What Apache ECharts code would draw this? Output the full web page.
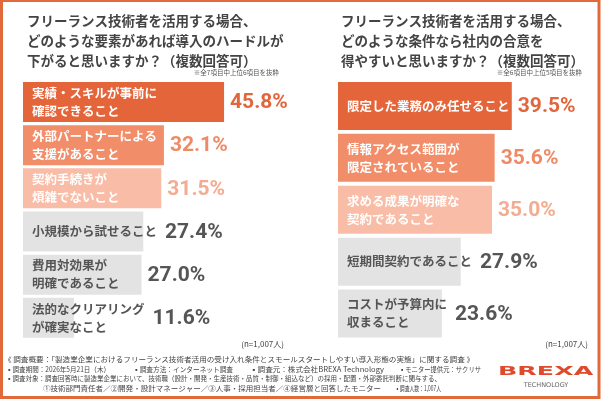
<!DOCTYPE html>
<html>
<head>
<meta charset="utf-8">
<script src="https://cdn.jsdelivr.net/npm/echarts@6/dist/echarts.min.js"></script>
<style>
html,body{margin:0;padding:0;background:#fff;}
#main{width:602px;height:401px;}
</style>
</head>
<body>
<div id="main"></div>
<script>
// 左パネル：導入のハードルが下がる要素
var leftNames = ['実績・スキルが事前に\n確認できること', '外部パートナーによる\n支援があること', '契約手続きが\n煩雑でないこと',
    '小規模から試せること', '費用対効果が\n明確であること', '法的なクリアリング\nが確実なこと'];
var leftValues = [45.8, 32.1, 31.5, 27.4, 27.0, 11.6];
// 右パネル：社内の合意を得やすい条件
var rightNames = ['限定した業務のみ任せること', '情報アクセス範囲が\n限定されていること', '求める成果が明確な\n契約であること',
    '短期間契約であること', 'コストが予算内に\n収まること'];
var rightValues = [39.5, 35.6, 35.0, 27.9, 23.6];

var leftTitle = 'フリーランス技術者を活用する場合、\nどのような要素があれば導入のハードルが\n下がると思いますか？（複数回答可）';
var rightTitle = 'フリーランス技術者を活用する場合、\nどのような条件なら社内の合意を\n得やすいと思いますか？（複数回答可）';
var leftNote = '※全7項目中上位6項目を抜粋';
var rightNote = '※全6項目中上位5項目を抜粋';
var sampleText = '(n=1,007人)';

// 調査概要 [x, y, 右端, テキスト]
var footLines = [
    [4, 359, 474, '《 調査概要：「製造業企業におけるフリーランス技術者活用の受け入れ条件とスモールスタートしやすい導入形態の実態」に関する調査 》'],
    [6, 369, 110, '▪調査期間：2026年5月21日（木）'],
    [133, 369, 233, '▪調査方法：インターネット調査'],
    [250, 369, 384, '▪調査元：株式会社BREXA Technology'],
    [399, 369, 481, '▪モニター提供元：サクリサ'],
    [6, 378.5, 441, '▪調査対象：調査回答時に製造業企業において、技術職（設計・開発・生産技術・品質・制御・組込など）の採用・配置・外部委託判断に関与する、'],
    [43, 388, 381, '①技術部門責任者／②開発・設計マネージャー／③人事・採用担当者／④経営層と回答したモニター'],
    [395, 388, 441, '▪調査人数：1,007人']
];

var barColors = ['#E5653A', '#F28D69', '#F9BCA6', '#E3E3E3', '#E3E3E3', '#E3E3E3'];
var valueColors = ['#E2663C', '#EE8B66', '#F3AC91', '#555555', '#555555', '#555555'];
var textColors = ['#fff', '#fff', '#fff', '#555', '#555', '#555'];

var jpFont = '"Noto Sans CJK JP", sans-serif';
var numFont = 'Roboto, sans-serif';
var catSize = 12.5;
var footSize = 7;

var ctx = document.createElement('canvas').getContext('2d');
function textWidth(s, font) {
    ctx.font = font;
    var w = 0;
    s.split('\n').forEach(function (line) {
        w = Math.max(w, ctx.measureText(line).width);
    });
    return w;
}

function panelSeries(idx, names, values, pxPerUnit, barW) {
    var main = {
        type: 'bar', xAxisIndex: idx, yAxisIndex: idx, barWidth: barW, barGap: '-100%', silent: true,
        data: values.map(function (v, i) {
            return { value: v, itemStyle: { color: barColors[i] }, label: { color: textColors[i] } };
        }),
        label: {
            show: true, position: 'insideLeft', distance: 9,
            formatter: function (p) { return names[p.dataIndex]; },
            fontFamily: jpFont, fontWeight: 'bold', fontSize: catSize, lineHeight: 18
        }
    };
    // 数値ラベル用（透明バー）
    var vals = {
        type: 'bar', xAxisIndex: idx, yAxisIndex: idx, barWidth: barW, silent: true, z: 3,
        data: values.map(function (v, i) {
            var tw = textWidth(names[i], 'bold ' + catSize + 'px ' + jpFont);
            var extra = Math.max(0, 9 + tw + 2 - v * pxPerUnit);
            return { value: v, itemStyle: { color: 'rgba(0,0,0,0)' }, label: { color: valueColors[i], offset: [extra, 1] } };
        }),
        label: {
            show: true, position: 'right', distance: 6,
            formatter: function (p) { return p.value.toFixed(1) + '%'; },
            fontFamily: numFont, fontSize: 21, fontWeight: 'bold'
        }
    };
    return [main, vals];
}

function txt(x, y, s, size, opts) {
    opts = opts || {};
    return {
        type: 'text', x: x, y: y, silent: true, scaleX: opts.scaleX || 1,
        style: {
            text: s, fill: opts.color || '#444', fontSize: size, fontFamily: opts.family || jpFont,
            fontWeight: opts.weight || 'normal', lineHeight: opts.lineHeight,
            align: opts.align || 'left', textAlign: opts.align || 'left',
            verticalAlign: opts.va || 'middle', textVerticalAlign: opts.va || 'middle'
        }
    };
}

var graphics = [
    {
        type: 'rect', silent: true, z: -10,
        shape: { x: 1.5, y: 0.5, width: 597.5, height: 397 },
        style: { fill: '#fff', stroke: '#E2693A', lineWidth: 3 }
    },
    txt(27, 11, leftTitle, 13.5, { weight: 'bold', lineHeight: 20, va: 'top' }),
    txt(341, 11, rightTitle, 13.5, { weight: 'bold', lineHeight: 20, va: 'top' }),
    txt(279, 73, leftNote, 6.5, { align: 'right', color: '#555' }),
    txt(582, 73, rightNote, 6.5, { align: 'right', color: '#555' }),
    txt(284, 344, sampleText, 8, { align: 'right' }),
    txt(588, 344, sampleText, 8, { align: 'right' }),
    txt(498, 372, 'BREXA', 13, { family: '"DejaVu Sans", sans-serif', weight: 'bold', color: '#E04A2C', scaleX: 1.95 }),
    txt(546, 385, 'TECHNOLOGY', 6.5, { family: '"DejaVu Sans", sans-serif', align: 'center', color: '#666' })
];
footLines.forEach(function (f) {
    var w = textWidth(f[3], footSize + 'px ' + jpFont);
    graphics.push(txt(f[0], f[1], f[3], footSize, { scaleX: (f[2] - f[0]) / w }));
});

var chart = echarts.init(document.getElementById('main'));
var option = {
    backgroundColor: '#fff',
    animation: false,
    grid: [
        { left: 23, top: 80.4, width: 219.5, height: 259 },
        { left: 338, top: 80, width: 220, height: 259.5 }
    ],
    xAxis: [
        { type: 'value', gridIndex: 0, min: 0, max: 50, show: false },
        { type: 'value', gridIndex: 1, min: 0, max: 50, show: false }
    ],
    yAxis: [
        { type: 'category', gridIndex: 0, inverse: true, data: leftNames, show: false },
        { type: 'category', gridIndex: 1, inverse: true, data: rightNames, show: false }
    ],
    series: panelSeries(0, leftNames, leftValues, 219.5 / 50, 40)
        .concat(panelSeries(1, rightNames, rightValues, 220 / 50, 48)),
    graphic: graphics
};
chart.setOption(option);
</script>
</body>
</html>
